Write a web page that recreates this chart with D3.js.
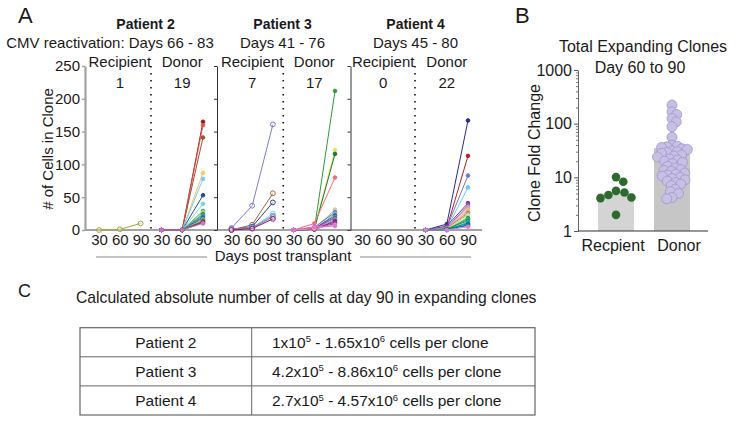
<!DOCTYPE html>
<html><head><meta charset="utf-8">
<script src="https://cdn.jsdelivr.net/npm/d3@7"></script>
<style>
body{margin:0;background:#fff}
svg{display:block}
text{font-family:"Liberation Sans",Arial,Helvetica,sans-serif;fill:#1a1a1a}
</style>
</head><body>
<svg id="chart" width="736" height="422"></svg>
<script>
// ---------------- DATA ----------------
const patients = ["Patient 2", "Patient 3", "Patient 4"];
const reactivation = ["CMV reactivation: Days 66 - 83", "Days 41 - 76", "Days 45 - 80"];
const sources = ["Recipient", "Donor"];
const days = [30, 60, 90];
const cellTicks = [0, 50, 100, 150, 200, 250];
const expandingCounts = [[1, 19], [7, 17], [0, 22]];

// clone sizes at day [30, 60, 90]
const p2Recipient = [[0, 1, 10]];
const p2RecipientColors = ["#a8a33a"];
const p2Donor = [[0,0,165],[0,0,160],[0,0,141],[0,0,87],[0,0,78],[0,0,53],[0,0,40],[0,0,29],[0,0,27],[0,0,24],
                 [0,0,22],[0,0,20],[0,0,18],[0,0,16],[0,0,14],[0,0,13],[0,0,12],[0,0,11],[0,0,10]];
const p2DonorColors = ["#8b1a1a","#e8504a","#a0522d","#ffc658","#6ccff6","#1f4e96","#7fd3de","#3cb44b","#a0d080","#2e8b57",
                       "#20b2aa","#6a5acd","#1e6fb0","#9acd32","#8e44ad","#2e7d32","#c71585","#556b2f","#d070d0"];

const p3Recipient = [[3,37,161],[0,8,56],[1,5,42],[0,3,25],[1,4,22],[2,3,20],[0,2,17]];
const p3RecipientColors = ["#7b7bd6","#a0663c","#3a3a8c","#7fd6f0","#5bb0d8","#a070c0","#8b1a5a"];
const p3Donor = [[0,1,212],[0,2,122],[0,1,116],[0,10,80],[0,3,31],[0,2,29],[0,4,27],[0,1,25],[0,2,22],[0,1,20],
                 [0,3,18],[0,2,16],[0,1,14],[0,2,12],[0,1,10],[0,2,8],[0,5,6]];
const p3DonorColors = ["#2e9b3a","#e6e64a","#137a3c","#ff6b6b","#f0c060","#a0d8f0","#7070c0","#60c0e0","#1f4e96","#3cb371",
                       "#8e44ad","#d080d0","#2f4f8f","#c71585","#6b3fa0","#ff8fa0","#e070e0"];

const p4Recipient = [];
const p4RecipientColors = [];
const p4Donor = [[0,9,167],[0,3,113],[0,4,83],[0,2,65],[0,6,41],[0,3,38],[0,2,35],[0,1,32],[0,2,30],[0,1,28],[0,3,26],
                 [0,1,24],[0,2,22],[0,1,20],[0,0,18],[0,1,16],[0,2,14],[0,0,12],[0,1,10],[0,0,8],[0,1,7],[0,0,5]];
const p4DonorColors = ["#2a2a8c","#b22222","#7575c8","#66ccf5","#6a3d9a","#9b59b6","#c39bd3","#f0a0a0","#f4c27a","#b0d070","#e07070",
                       "#a0a0e0","#f0e68c","#90ee90","#2e8b57","#3cb371","#1a9850","#20b2aa","#1f78b4","#006d5b","#008080","#e07ce0"];

const foldCategories = ["Recpient", "Donor"];
const foldBarHeights = [5, 35];
const foldTicks = [1, 10, 100, 1000];
const recipientFold = [10.1, 8.3, 5.6, 5.2, 4.7, 4.2, 4.1, 2.0];
const donorFold = [222,166,148,125,108,88,56,40,38,37,36,34,33,31,30,29,28,26,25,24,22,21,20,19,18,16,15,14,13.5,13,
                   12,11.5,11,10.5,10,9.5,9,8.5,8,7.5,7,6,5.4,5,4.2,4];

const tableRows = ["Patient 2", "Patient 3", "Patient 4"];
const rangeLow = [["1", "5"], ["4.2", "5"], ["2.7", "5"]];
const rangeHigh = [["1.65", "6"], ["8.86", "6"], ["4.57", "6"]];

// ---------------- DRAW ----------------
const svg = d3.select("#chart");
const FS = 15;
const FONT = '"Liberation Sans",Arial,sans-serif';

const panels = [
  {rec: p2Recipient, recC: p2RecipientColors, don: p2Donor, donC: p2DonorColors},
  {rec: p3Recipient, recC: p3RecipientColors, don: p3Donor, donC: p3DonorColors},
  {rec: p4Recipient, recC: p4RecipientColors, don: p4Donor, donC: p4DonorColors}
];
const axisX = [85, 217, 350.5];
const slotRange = [[99, 203], [231.5, 335], [362, 468]];
const titleX = [145.5, 282.5, 415.5];
const subtitleX = [110, 282.5, 415.5];
const yA = d3.scaleLinear().domain([0, 250]).range([230, 66]);
const slots = [];
sources.forEach(s => days.forEach(d => slots.push(s + "-" + d)));

svg.append("text").attr("x", 18).attr("y", 22.7).attr("font-size", 22).text("A");

// baseline
svg.append("line").attr("x1", 85).attr("x2", 482).attr("y1", 230).attr("y2", 230)
  .attr("stroke", "#a3a3a3").attr("stroke-width", 2);

panels.forEach((p, i) => {
  const x = d3.scalePoint().domain(slots).range(slotRange[i]);
  const sep = (x(slots[2]) + x(slots[3])) / 2;
  const g = svg.append("g");

  g.append("text").attr("x", titleX[i]).attr("y", 29).attr("text-anchor", "middle")
    .attr("font-size", 14).attr("font-weight", "bold").text(patients[i]);
  g.append("text").attr("x", subtitleX[i]).attr("y", 48).attr("text-anchor", "middle")
    .attr("font-size", FS).text(reactivation[i]);

  sources.forEach((s, k) => {
    const mx = (x(s + "-30") + x(s + "-90")) / 2;
    g.append("text").attr("x", mx).attr("y", 66.5).attr("text-anchor", "middle").attr("font-size", FS).text(s);
    g.append("text").attr("x", mx).attr("y", 87.5).attr("text-anchor", "middle").attr("font-size", FS).text(expandingCounts[i][k]);
  });

  // y axis
  const ax = d3.axisLeft(yA).tickValues(cellTicks).tickSize(3).tickSizeOuter(0).tickPadding(2);
  if (i > 0) ax.tickFormat("");
  const ag = g.append("g").attr("transform", `translate(${axisX[i]},0)`).call(ax);
  ag.selectAll("text").attr("font-size", FS).style("font-family", FONT).attr("fill", "#1a1a1a");
  if (i === 0) {
    ag.select(".domain").attr("stroke", "#a3a3a3").attr("stroke-width", 2.2);
    ag.selectAll(".tick line").attr("stroke", "#a3a3a3").attr("stroke-width", 1.5);
  } else {
    ag.select(".domain").attr("stroke", "#333").attr("stroke-width", 1);
    ag.selectAll(".tick line").attr("stroke", "#333");
  }

  // x tick labels
  const xg = g.append("g").attr("transform", "translate(0,230)")
    .call(d3.axisBottom(x).tickSize(0).tickPadding(4).tickFormat(d => d.split("-")[1]));
  xg.select(".domain").remove();
  xg.selectAll("text").attr("font-size", FS).style("font-family", FONT).attr("fill", "#1a1a1a");

  // dotted separator
  g.append("line").attr("x1", sep).attr("x2", sep).attr("y1", yA(250)).attr("y2", yA(0))
    .attr("stroke", "#111").attr("stroke-width", 1.6).attr("stroke-dasharray", "1.4,5.6");

  const line = d3.line();
  const drawGroup = (clones, colors, src, hollow) => {
    clones.forEach((c, j) => {
      const pts = c.map((v, t) => [x(src + "-" + days[t]), yA(v)]);
      g.append("path").attr("d", line(pts)).attr("fill", "none").attr("stroke", colors[j]).attr("stroke-width", 1);
      pts.forEach(pt => {
        g.append("circle").attr("cx", pt[0]).attr("cy", pt[1]).attr("r", hollow ? 2.4 : 1.8)
          .attr("fill", hollow ? "#fff" : colors[j]).attr("fill-opacity", hollow ? 0.3 : 1)
          .attr("stroke", colors[j]).attr("stroke-width", 1);
      });
    });
  };
  drawGroup(p.rec, p.recC, "Recipient", true);
  drawGroup(p.don, p.donC, "Donor", false);
});

svg.append("text").attr("transform", "translate(53,149) rotate(-90)").attr("text-anchor", "middle")
  .attr("font-size", FS).text("# of Cells in Clone");
svg.append("text").attr("x", 283).attr("y", 260.5).attr("text-anchor", "middle").attr("font-size", FS).text("Days post transplant");
[[96, 207], [360, 471]].forEach(r => svg.append("line").attr("x1", r[0]).attr("x2", r[1]).attr("y1", 257).attr("y2", 257)
  .attr("stroke", "#8a8a8a").attr("stroke-width", 1));

// ---------------- PANEL B ----------------
const yB = d3.scaleLog().domain([1, 1000]).range([231, 70]);
const xB = d3.scalePoint().domain(foldCategories).range([616, 672]);
const barW = 36;
svg.append("text").attr("x", 515).attr("y", 22.7).attr("font-size", 22).text("B");
svg.append("text").attr("x", 643).attr("y", 51.5).attr("text-anchor", "middle").attr("font-size", 16).text("Total Expanding Clones");
svg.append("text").attr("x", 640).attr("y", 72.5).attr("text-anchor", "middle").attr("font-size", 16).text("Day 60 to 90");

const barColors = ["#d4d4d4", "#c6c6c6"];
foldCategories.forEach((c, i) => {
  svg.append("rect").attr("x", xB(c) - barW / 2).attr("width", barW)
    .attr("y", yB(foldBarHeights[i])).attr("height", yB(1) - yB(foldBarHeights[i])).attr("fill", barColors[i]);
});

const gB = svg.append("g").attr("transform", "translate(578,0)");
gB.call(d3.axisLeft(yB).tickValues(yB.ticks().filter(t => !foldTicks.includes(t))).tickSize(2).tickFormat("").tickSizeOuter(0))
  .call(g => g.select(".domain").remove());
gB.selectAll("line").attr("stroke", "#777");
const gB2 = svg.append("g").attr("transform", "translate(578,0)")
  .call(d3.axisLeft(yB).tickValues(foldTicks).tickFormat(d3.format("d")).tickSize(4).tickSizeOuter(0).tickPadding(2));
gB2.select(".domain").attr("stroke", "#666");
gB2.selectAll(".tick line").attr("stroke", "#555");
gB2.selectAll("text").attr("font-size", 16).style("font-family", FONT).attr("fill", "#1a1a1a");
svg.append("line").attr("x1", 578).attr("x2", 708).attr("y1", 231).attr("y2", 231).attr("stroke", "#333").attr("stroke-width", 1.2);

const catLabelShift = [-3, 7];
foldCategories.forEach((c, i) => svg.append("text").attr("x", xB(c) + catLabelShift[i]).attr("y", 251)
  .attr("text-anchor", "middle").attr("font-size", 16).text(c));
svg.append("text").attr("transform", "translate(540,153) rotate(-90)").attr("text-anchor", "middle").attr("font-size", 16).text("Clone Fold Change");

function swarm(values, y, cx, dist) {
  const placed = [];
  return values.map(v => {
    const py = y(v);
    const cands = [0];
    placed.forEach(p => {
      const dy = py - p.y;
      if (Math.abs(dy) < dist) { const dx = Math.sqrt(dist * dist - dy * dy); cands.push(p.dx + dx, p.dx - dx); }
    });
    cands.sort((a, b) => Math.abs(a) - Math.abs(b));
    const best = cands.find(c => placed.every(p => { const dy = py - p.y, dx = c - p.dx; return dx * dx + dy * dy >= dist * dist - 0.01; }));
    placed.push({dx: best, y: py});
    return {x: cx + best, y: py};
  });
}
swarm(donorFold, yB, xB("Donor"), 5.4).forEach(d => {
  svg.append("circle").attr("cx", d.x).attr("cy", d.y).attr("r", 5)
    .attr("fill", "#c7c0e4").attr("stroke", "#a096cc").attr("stroke-width", 0.8);
});
swarm(recipientFold, yB, xB("Recpient"), 8.6).forEach(d => {
  svg.append("circle").attr("cx", d.x).attr("cy", d.y).attr("r", 4.3).attr("fill", "#2c6a2e");
});

// ---------------- PANEL C ----------------
svg.append("text").attr("x", 18).attr("y", 297).attr("font-size", 18).text("C");
svg.append("text").attr("x", 76).attr("y", 303).attr("font-size", 15.7)
  .text("Calculated absolute number of cells at day 90 in expanding clones");

const tx = [80, 251.7, 535];
const rowY = d3.scaleBand().domain(tableRows).range([327.7, 415]);
const tg = svg.append("g");
tg.append("rect").attr("x", tx[0]).attr("y", rowY.range()[0]).attr("width", tx[2] - tx[0])
  .attr("height", rowY.range()[1] - rowY.range()[0]).attr("fill", "none").attr("stroke", "#666").attr("stroke-width", 1.2);
tg.append("line").attr("x1", tx[1]).attr("x2", tx[1]).attr("y1", rowY.range()[0]).attr("y2", rowY.range()[1])
  .attr("stroke", "#666").attr("stroke-width", 1);
tableRows.forEach((r, i) => {
  const y0 = rowY(r);
  if (i > 0) tg.append("line").attr("x1", tx[0]).attr("x2", tx[2]).attr("y1", y0).attr("y2", y0).attr("stroke", "#666").attr("stroke-width", 1);
  const cy = y0 + rowY.bandwidth() / 2 + 5.6;
  tg.append("text").attr("x", (tx[0] + tx[1]) / 2).attr("y", cy).attr("text-anchor", "middle").attr("font-size", 15.5).text(r);
  const t = tg.append("text").attr("x", 272).attr("y", cy).attr("font-size", 15.5);
  t.append("tspan").text(rangeLow[i][0] + "x10");
  t.append("tspan").attr("font-size", 9.5).attr("dy", -5.5).text(rangeLow[i][1]);
  t.append("tspan").attr("dy", 5.5).text(" - " + rangeHigh[i][0] + "x10");
  t.append("tspan").attr("font-size", 9.5).attr("dy", -5.5).text(rangeHigh[i][1]);
  t.append("tspan").attr("dy", 5.5).text(" cells per clone");
});
</script>
</body></html>
